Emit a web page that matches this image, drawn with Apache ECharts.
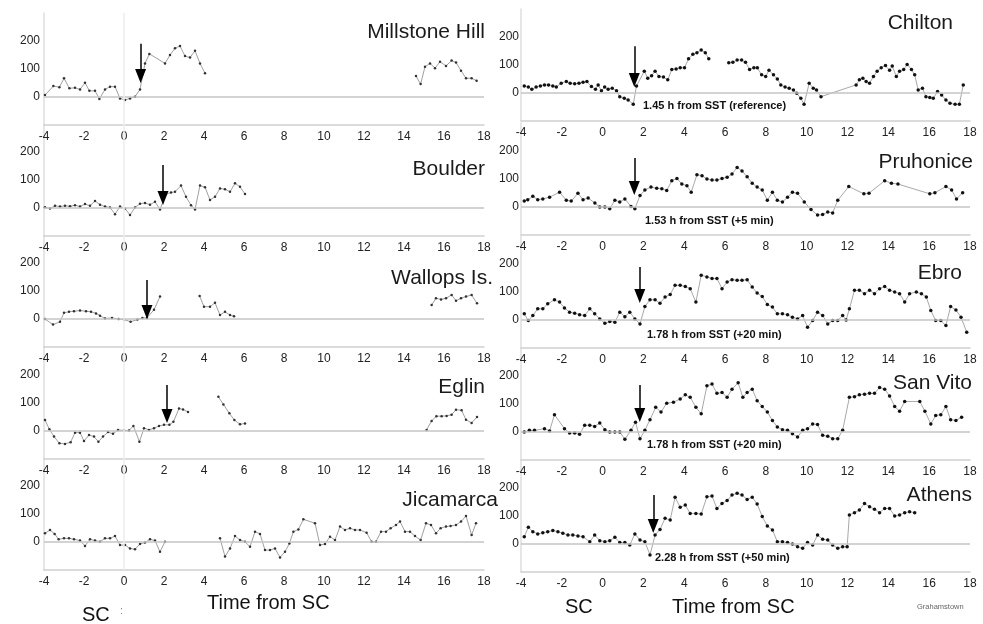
<!DOCTYPE html>
<html>
<head>
<meta charset="utf-8">
<script src="https://cdn.jsdelivr.net/npm/echarts@6/dist/echarts.min.js"></script>
<style>
  html, body { margin: 0; padding: 0; background: #fff; }
  #chart { width: 983px; height: 624px; }
</style>
</head>
<body>
<div id="chart"></div>
<script>
// hours from SC vs. value, null marks a gap in the record
const millstone = [[-3.95,7],[-3.53,39],[-3.23,35],[-3.0,67],[-2.73,31],[-2.45,33],[-2.2,27],[-1.95,51],[-1.73,22],[-1.45,22],[-1.23,-7],[-0.95,27],[-0.7,37],[-0.45,37],[-0.2,-5],[0.05,-11],[0.3,-5],[0.55,1],[0.8,27],[1.05,120],[1.27,154],[2.05,120],[2.3,150],[2.55,174],[2.8,182],[3.05,146],[3.3,141],[3.55,165],[3.8,120],[4.05,85],[4.1,null],
  [14.6,75],[14.83,46],[15.05,108],[15.3,120],[15.55,103],[15.8,126],[16.1,111],[16.38,130],[16.6,123],[16.85,94],[17.1,67],[17.38,67],[17.63,58]];
const boulder = [[-3.95,3],[-3.7,-2],[-3.45,8],[-3.2,5],[-2.95,8],[-2.7,6],[-2.45,10],[-2.2,5],[-1.95,14],[-1.7,8],[-1.45,25],[-1.2,12],[-0.95,5],[-0.7,2],[-0.45,-22],[-0.2,5],[0.05,-2],[0.3,-25],[0.55,2],[0.8,15],[1.05,18],[1.3,12],[1.55,22],[1.8,-5],[2.1,50],[2.35,55],[2.55,58],[2.85,80],[3.1,40],[3.35,10],[3.55,-5],[3.8,80],[4.05,74],[4.3,29],[4.55,40],[4.8,70],[5.05,67],[5.3,58],[5.55,88],[5.8,76],[6.05,50]];
const wallops = [[-3.95,0],[-3.55,-20],[-3.2,-10],[-3.0,22],[-2.75,26],[-2.5,28],[-2.2,30],[-1.9,28],[-1.65,26],[-1.4,20],[-1.2,12],[-0.95,2],[-0.6,4],[-0.27,0],[0.0,-2],[0.33,-10],[0.67,-2],[0.92,4],[1.15,4],[1.5,33],[1.8,80],[1.9,null],
  [3.78,82],[4.0,44],[4.3,44],[4.55,58],[4.8,14],[5.05,26],[5.3,14],[5.5,10],[5.6,null],
  [15.38,50],[15.6,74],[15.85,70],[16.1,74],[16.38,86],[16.6,65],[16.85,74],[17.1,80],[17.38,86],[17.65,56]];
const eglin = [[-3.95,39],[-3.73,6],[-3.5,-20],[-3.23,-44],[-2.95,-46],[-2.67,-40],[-2.45,-6],[-2.2,-6],[-2.0,-36],[-1.75,-14],[-1.5,-20],[-1.28,-38],[-1.05,-20],[-0.8,-4],[-0.55,-10],[-0.3,4],[0.0,2],[0.25,2],[0.47,18],[0.77,-38],[1.0,10],[1.25,4],[1.5,10],[1.75,18],[2.0,22],[2.27,22],[2.47,33],[2.75,80],[2.95,77],[3.2,68],[3.3,null],
  [4.72,122],[4.97,95],[5.27,63],[5.52,39],[5.8,24],[6.05,27],[6.2,null],
  [15.13,4],[15.38,36],[15.62,53],[15.88,53],[16.13,54],[16.38,58],[16.6,76],[16.88,74],[17.1,40],[17.38,29],[17.65,50]];
const jicamarca = [[-3.95,31],[-3.7,43],[-3.47,29],[-3.27,10],[-3.0,13],[-2.75,13],[-2.5,10],[-2.2,5],[-1.95,-14],[-1.7,10],[-1.45,5],[-1.2,1],[-0.95,13],[-0.7,13],[-0.45,21],[-0.2,-11],[0.05,-11],[0.3,-23],[0.55,-26],[0.8,-7],[1.05,-2],[1.3,10],[1.55,5],[1.8,-35],[2.05,1],[2.2,null],
  [4.8,13],[5.05,-52],[5.3,-23],[5.55,21],[5.8,7],[6.05,1],[6.3,-17],[6.55,37],[6.8,29],[7.05,-29],[7.3,-29],[7.55,-23],[7.8,-55],[8.05,-35],[8.27,-5],[8.47,37],[8.72,45],[8.97,81],[9.55,67],[9.8,-11],[10.05,-7],[10.3,19],[10.55,7],[10.8,55],[11.05,43],[11.3,49],[11.55,43],[11.8,43],[12.13,33],[12.38,1],[12.6,1],[12.85,37],[13.1,37],[13.33,49],[13.6,61],[13.8,73],[14.05,37],[14.3,37],[14.55,21],[14.83,7],[15.1,67],[15.35,61],[15.6,31],[15.83,49],[16.1,55],[16.33,57],[16.6,61],[16.85,73],[17.1,93],[17.38,25],[17.6,67]];
const chilton = [[-3.84,25],[-3.64,21],[-3.47,13],[-3.26,21],[-3.05,25],[-2.85,29],[-2.65,29],[-2.44,25],[-2.27,21],[-2.03,35],[-1.78,41],[-1.59,35],[-1.37,33],[-1.16,35],[-0.96,38],[-0.77,41],[-0.55,23],[-0.35,13],[-0.22,29],[-0.06,8],[0.1,21],[0.27,13],[0.47,17],[0.68,8],[0.84,-13],[1.06,-19],[1.25,-25],[1.5,-40],[1.66,25],[2.04,78],[2.21,53],[2.4,62],[2.57,78],[2.76,59],[2.98,57],[3.19,47],[3.39,84],[3.6,86],[3.8,90],[4.01,90],[4.21,122],[4.42,138],[4.62,144],[4.83,154],[5.03,144],[5.2,122],[5.4,null],
  [6.18,108],[6.38,110],[6.59,118],[6.81,118],[7.0,110],[7.2,84],[7.41,90],[7.58,90],[7.79,65],[7.99,59],[8.15,81],[8.37,65],[8.56,50],[8.73,29],[8.94,21],[9.14,17],[9.35,11],[9.51,-1],[9.71,-19],[9.87,-40],[10.12,35],[10.32,17],[10.48,11],[10.7,-13],[12.42,29],[12.58,47],[12.75,53],[12.91,41],[13.08,35],[13.27,59],[13.45,78],[13.65,90],[13.86,98],[14.06,81],[14.19,96],[14.39,59],[14.55,78],[14.75,84],[14.92,102],[15.13,84],[15.29,65],[15.46,11],[15.67,17],[15.84,-13],[16.03,-16],[16.2,-19],[16.41,5],[16.61,-7],[16.82,-25],[17.02,-37],[17.27,-40],[17.48,-40],[17.67,29]];
const pruhonice = [[-3.84,21],[-3.67,26],[-3.42,38],[-3.18,26],[-2.93,29],[-2.6,35],[-2.11,53],[-1.78,24],[-1.54,21],[-1.21,49],[-0.96,26],[-0.71,32],[-0.38,14],[-0.14,0],[0.11,0],[0.35,-6],[0.6,24],[0.84,18],[1.09,29],[1.39,2],[1.58,-6],[1.83,41],[2.07,61],[2.37,71],[2.65,67],[2.9,65],[3.14,59],[3.39,94],[3.64,102],[3.88,82],[4.13,76],[4.34,53],[4.62,115],[4.87,112],[5.11,100],[5.36,96],[5.6,96],[5.85,102],[6.1,106],[6.34,118],[6.59,141],[6.83,129],[7.08,108],[7.33,85],[7.57,71],[7.82,61],[8.07,24],[8.32,53],[8.56,24],[8.81,18],[9.06,35],[9.3,53],[9.55,49],[9.88,18],[10.21,-9],[10.53,-29],[10.78,-27],[11.03,-18],[11.27,-21],[11.52,24],[12.06,73],[12.8,47],[13.05,49],[13.82,94],[14.15,85],[14.47,82],[16.03,47],[16.28,51],[16.82,73],[17.1,61],[17.34,29],[17.64,51]];
const ebro = [[-3.84,22],[-3.64,-2],[-3.42,16],[-3.18,40],[-2.93,40],[-2.69,58],[-2.36,72],[-2.11,64],[-1.87,43],[-1.62,28],[-1.37,24],[-1.13,19],[-0.88,16],[-0.63,40],[-0.39,22],[-0.14,4],[0.11,-12],[0.35,-5],[0.6,-8],[0.84,28],[1.09,12],[1.33,28],[1.58,4],[1.83,-14],[2.07,48],[2.32,72],[2.57,72],[2.81,60],[3.06,82],[3.31,91],[3.55,124],[3.8,124],[4.05,120],[4.29,112],[4.57,64],[4.83,160],[5.11,154],[5.36,148],[5.6,148],[5.85,112],[6.1,136],[6.34,144],[6.59,142],[6.83,142],[7.08,144],[7.33,118],[7.57,96],[7.82,84],[8.07,55],[8.32,46],[8.56,22],[8.81,22],[9.06,19],[9.3,10],[9.55,4],[9.8,16],[10.04,-26],[10.29,-2],[10.53,28],[10.78,16],[11.03,-14],[11.27,-2],[11.52,-2],[11.76,16],[11.93,0],[12.09,40],[12.34,106],[12.58,106],[12.83,94],[13.08,106],[13.32,94],[13.57,112],[13.82,120],[14.06,106],[14.31,100],[14.55,94],[14.8,64],[15.04,94],[15.37,100],[15.62,94],[15.86,82],[16.08,34],[16.32,-2],[16.57,-2],[16.82,-20],[17.05,48],[17.31,36],[17.56,10],[17.84,-44]];
const sanVito = [[-3.84,0],[-3.59,6],[-3.34,6],[-2.85,12],[-2.6,4],[-2.36,62],[-1.87,12],[-1.62,-4],[-1.37,-4],[-1.13,-8],[-0.88,24],[-0.63,24],[-0.39,20],[-0.14,32],[0.11,8],[0.35,0],[0.6,0],[0.84,0],[1.09,-26],[1.39,6],[1.61,35],[1.83,-24],[2.07,6],[2.32,44],[2.6,88],[2.86,71],[3.14,103],[3.47,106],[3.8,118],[4.05,133],[4.29,124],[4.57,88],[4.83,65],[5.11,165],[5.36,171],[5.6,138],[5.85,141],[6.1,124],[6.34,153],[6.64,176],[6.87,124],[7.08,141],[7.33,153],[7.57,112],[7.82,91],[8.07,71],[8.32,41],[8.56,18],[8.81,8],[9.06,6],[9.3,-6],[9.55,-18],[9.8,6],[10.04,12],[10.29,29],[10.53,27],[10.78,-12],[11.03,-15],[11.27,-24],[11.52,-24],[11.76,6],[12.09,124],[12.34,126],[12.58,133],[12.83,135],[13.08,138],[13.32,138],[13.57,159],[13.82,153],[14.06,129],[14.31,91],[14.55,74],[14.8,109],[15.54,109],[15.79,74],[16.08,29],[16.32,59],[16.57,62],[16.82,91],[17.05,44],[17.31,41],[17.59,53]];
const athens = [[-3.84,26],[-3.64,60],[-3.42,44],[-3.18,36],[-2.93,40],[-2.69,44],[-2.44,48],[-2.19,44],[-1.95,38],[-1.7,32],[-1.46,32],[-1.21,29],[-0.96,26],[-0.63,8],[-0.39,32],[-0.14,12],[0.11,8],[0.35,12],[0.6,24],[0.84,5],[1.09,5],[1.33,-4],[1.58,36],[1.83,14],[2.07,8],[2.32,-39],[2.57,32],[2.81,52],[3.06,92],[3.31,86],[3.55,167],[3.8,131],[4.05,139],[4.29,109],[4.57,109],[4.83,107],[5.11,169],[5.36,171],[5.6,127],[5.85,145],[6.1,155],[6.34,175],[6.59,181],[6.83,175],[7.08,159],[7.33,167],[7.57,143],[7.82,98],[8.07,64],[8.32,50],[8.56,8],[8.81,8],[9.06,5],[9.3,0],[9.55,-10],[9.8,-15],[10.04,5],[10.29,-4],[10.53,32],[10.78,17],[11.03,14],[11.27,-4],[11.52,-15],[11.76,-10],[11.98,-10],[12.09,104],[12.34,112],[12.58,121],[12.83,145],[13.08,133],[13.32,124],[13.57,112],[13.82,127],[14.06,127],[14.31,100],[14.55,104],[14.8,112],[15.04,115],[15.29,112]];

// SC arrow per station: [hour, top value, value at the centre of the arrow head]
const panels = [
  { name: 'Millstone Hill', data: millstone, col: 0, row: 0, arrow: [0.83, 190, 75] },
  { name: 'Boulder', data: boulder, col: 0, row: 1, arrow: [1.95, 154, 36] },
  { name: 'Wallops Is.', data: wallops, col: 0, row: 2, arrow: [1.15, 139, 25] },
  { name: 'Eglin', data: eglin, col: 0, row: 3, arrow: [2.15, 164, 54] },
  { name: 'Jicamarca', data: jicamarca, col: 0, row: 4, arrow: null },
  { name: 'Chilton', data: chilton, col: 1, row: 0, arrow: [1.55, 167, 46] },
  { name: 'Pruhonice', data: pruhonice, col: 1, row: 1, arrow: [1.55, 175, 68] },
  { name: 'Ebro', data: ebro, col: 1, row: 2, arrow: [1.82, 189, 86] },
  { name: 'San Vito', data: sanVito, col: 1, row: 3, arrow: [1.82, 168, 61] },
  { name: 'Athens', data: athens, col: 1, row: 4, arrow: [2.48, 175, 64] }
];
const notes = ['1.45 h from SST (reference)', '1.53 h from SST (+5 min)', '1.78 h from SST (+20 min)', '1.78 h from SST (+20 min)', '2.28 h from SST (+50 min)'];

const FONT = '"Liberation Sans", Arial, sans-serif';
const colLeft = [44, 521];
const colWidth = [440, 449];
const zeroY = [[97, 208, 319, 431, 542], [93, 207, 320, 432, 544]];
const pxPer100 = 28;

const grids = [], xAxes = [], yAxes = [], series = [];
panels.forEach((p, i) => {
  const zero = zeroY[p.col][p.row];
  grids.push({
    left: colLeft[p.col], width: colWidth[p.col],
    top: zero - 3 * pxPer100, height: 4 * pxPer100
  });
  xAxes.push({
    gridIndex: i, type: 'value', min: -4, max: 18, interval: 2, position: 'bottom',
    axisLine: { onZero: false, lineStyle: { color: '#cfcfcf', width: 1.5 } },
    axisTick: { show: false }, splitLine: { show: false },
    axisLabel: { color: '#222', fontSize: 12, fontFamily: FONT, margin: 6 }
  });
  yAxes.push({
    gridIndex: i, type: 'value', min: -100, max: 300, interval: 100,
    axisLine: { show: true, onZero: false, lineStyle: { color: '#dedede', width: 1.5 } },
    axisTick: { show: false }, splitLine: { show: false },
    axisLabel: { color: '#222', fontSize: 12, fontFamily: FONT, margin: p.col ? 2 : 4,
      showMinLabel: false, showMaxLabel: false }
  });
  const lines = [{ yAxis: 0, lineStyle: { color: '#c4c4c4', width: 1.5, type: 'solid' } }];
  if (p.col === 0) lines.push({ xAxis: 0, lineStyle: { color: '#ececec', width: 1.5, type: 'solid' } });
  if (p.arrow) {
    const [h, top, tip] = p.arrow;
    lines.push([
      { coord: [h, top], symbol: 'none', lineStyle: { color: '#000', width: 1.5, type: 'solid' } },
      { coord: [h, tip], symbol: 'triangle', symbolSize: [11, 14] }
    ]);
  }
  const big = p.col === 1;
  series.push({
    type: 'line', xAxisIndex: i, yAxisIndex: i, data: p.data,
    symbol: 'circle', symbolSize: big ? 3.5 : 2.5, showSymbol: true,
    connectNulls: false, silent: true, animation: false,
    lineStyle: { color: big ? '#a9a9a9' : '#a0a0a0', width: 1 },
    itemStyle: { color: big ? '#111' : '#333' },
    markLine: { silent: true, animation: false, symbol: 'none', label: { show: false }, data: lines }
  });
});

// station names, notes and footer labels
const nameAt = [[485, 32], [485, 169], [493, 278], [485, 387], [498, 500],
                [953, 23], [973, 162], [962, 273], [972, 383], [972, 495]];
const noteAt = [[643, 106], [645, 221], [647, 335], [647, 445], [655, 558]];
const graphic = [];
panels.forEach((p, i) => {
  graphic.push({ type: 'text', x: nameAt[i][0], y: nameAt[i][1], silent: true,
    style: { text: p.name, font: '21px ' + FONT, fill: '#1a1a1a', textAlign: 'right', textVerticalAlign: 'middle' } });
});
notes.forEach((t, i) => {
  graphic.push({ type: 'text', x: noteAt[i][0], y: noteAt[i][1], silent: true,
    style: { text: t, font: 'bold 11px ' + FONT, fill: '#111', textVerticalAlign: 'middle' } });
});
const footer = [
  ['SC', 82, 615, '20px', '#111'], [':', 120, 611, '11px', '#888'], ['Time from SC', 207, 603, '20px', '#111'],
  ['SC', 565, 607, '20px', '#111'], ['Time from SC', 672, 607, '20px', '#111'], ['Grahamstown', 917, 607, '7.5px', '#666']
];
footer.forEach(([t, x, y, size, fill]) => {
  graphic.push({ type: 'text', x, y, silent: true,
    style: { text: t, font: size + ' ' + FONT, fill, textVerticalAlign: 'middle' } });
});

const chart = echarts.init(document.getElementById('chart'), null, { renderer: 'canvas' });
chart.setOption({
  animation: false,
  backgroundColor: '#fff',
  grid: grids, xAxis: xAxes, yAxis: yAxes, series, graphic
});
</script>
</body>
</html>
